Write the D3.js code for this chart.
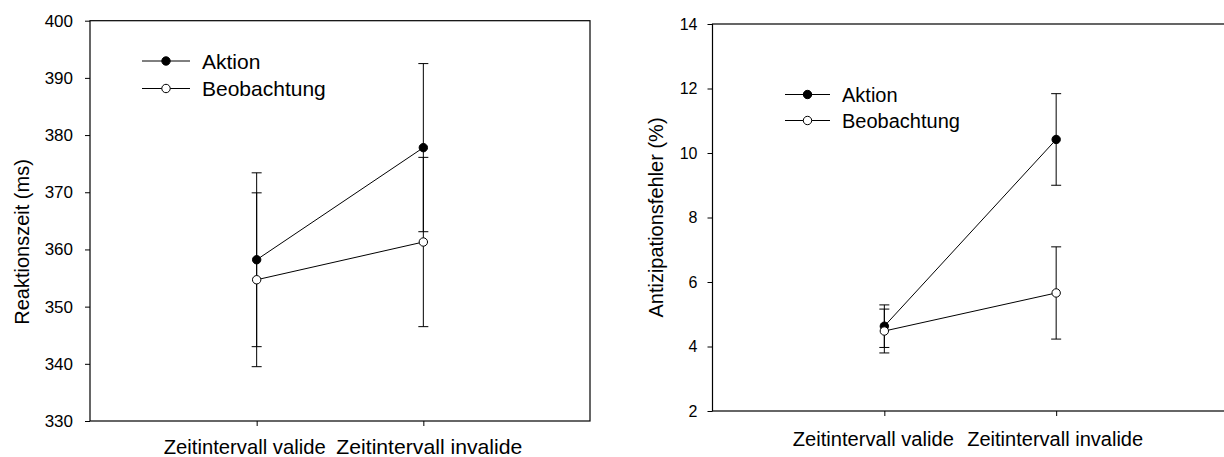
<!DOCTYPE html>
<html>
<head>
<meta charset="utf-8">
<script src="https://cdn.jsdelivr.net/npm/d3@7"></script>
<style>
  html, body { margin: 0; padding: 0; background: #fff; }
  svg { display: block; font-family: "Liberation Sans", Arial, sans-serif; }
</style>
</head>
<body>
<svg id="chart" width="1224" height="457"></svg>
<script>
// ---------- data ----------
const categories = ["Zeitintervall valide", "Zeitintervall invalide"];
const seriesNames = ["Aktion", "Beobachtung"];

// left panel: Reaktionszeit (ms)
const rtAktion = [358.2, 377.8];
const rtAktionErr = [15.2, 14.7];
const rtBeobachtung = [354.7, 361.3];
const rtBeobachtungErr = [15.2, 14.8];
const rtTicks = [330, 340, 350, 360, 370, 380, 390, 400];

// right panel: Antizipationsfehler (%)
const afAktion = [4.63, 10.42];
const afAktionErr = [0.66, 1.42];
const afBeobachtung = [4.48, 5.66];
const afBeobachtungErr = [0.68, 1.43];
const afTicks = [2, 4, 6, 8, 10, 12, 14];

// ---------- drawing ----------
const svg = d3.select("#chart");

function panel(cfg) {
  const g = svg.append("g");
  const x = d3.scalePoint().domain(categories).range([cfg.left, cfg.right]).padding(1);
  const y = d3.scaleLinear().domain(cfg.domain).range([cfg.bottom, cfg.top]);

  // frame
  g.append("rect")
    .attr("x", cfg.left).attr("y", cfg.top)
    .attr("width", cfg.right - cfg.left).attr("height", cfg.bottom - cfg.top)
    .attr("fill", "none").attr("stroke", "#000").attr("stroke-width", 1.2);

  // y axis
  const ya = g.append("g").attr("transform", `translate(${cfg.left},0)`)
    .call(d3.axisLeft(y).tickValues(cfg.ticks).tickSize(5).tickPadding(cfg.tickPad).tickFormat(d3.format("d")));
  ya.select(".domain").remove();
  ya.selectAll("line").attr("stroke", "#000");
  ya.selectAll("text").attr("font-size", cfg.tickFont).attr("fill", "#000")
    .attr("font-family", "Liberation Sans, Arial, sans-serif");

  // x axis ticks
  const xa = g.append("g").attr("transform", `translate(0,${cfg.bottom})`)
    .call(d3.axisBottom(x).tickSize(5).tickFormat(""));
  xa.select(".domain").remove();
  xa.selectAll("line").attr("stroke", "#000");

  // x labels
  g.selectAll(".xlab").data(categories).enter().append("text")
    .attr("x", (d, i) => x(d) + cfg.labDx[i])
    .attr("y", cfg.labY)
    .attr("text-anchor", "middle")
    .attr("font-size", cfg.labFont)
    .attr("textLength", (d, i) => cfg.labLen[i])
    .attr("lengthAdjust", "spacingAndGlyphs")
    .attr("fill", "#000")
    .text(d => d);

  // y title
  g.append("text")
    .attr("transform", `translate(${cfg.titleX},${cfg.titleY}) rotate(-90)`)
    .attr("text-anchor", "middle")
    .attr("dominant-baseline", "central")
    .attr("font-size", cfg.titleFont)
    .attr("fill", "#000")
    .text(cfg.title);

  const series = [
    { name: seriesNames[0], vals: cfg.s1, err: cfg.e1, fill: "#000" },
    { name: seriesNames[1], vals: cfg.s2, err: cfg.e2, fill: "#fff" }
  ];

  const line = d3.line().x((d, i) => x(categories[i])).y(d => y(d));
  const cap = 5;

  series.forEach(s => {
    s.vals.forEach((v, i) => {
      const cx = x(categories[i]);
      const lo = y(v - s.err[i]), hi = y(v + s.err[i]);
      g.append("line").attr("x1", cx).attr("x2", cx).attr("y1", lo).attr("y2", hi)
        .attr("stroke", "#000").attr("stroke-width", 1);
      [lo, hi].forEach(yy => g.append("line")
        .attr("x1", cx - cap).attr("x2", cx + cap).attr("y1", yy).attr("y2", yy)
        .attr("stroke", "#000").attr("stroke-width", 1));
    });
  });
  series.forEach(s => {
    g.append("path").datum(s.vals).attr("d", line)
      .attr("fill", "none").attr("stroke", "#000").attr("stroke-width", 1);
  });
  series.forEach(s => {
    g.selectAll(null).data(s.vals).enter().append("circle")
      .attr("cx", (d, i) => x(categories[i])).attr("cy", d => y(d))
      .attr("r", 4.2).attr("fill", s.fill).attr("stroke", "#000").attr("stroke-width", 1);
  });

  // legend
  series.forEach((s, i) => {
    const ly = cfg.legY + i * cfg.legGap;
    g.append("line").attr("x1", cfg.legX).attr("x2", cfg.legX + cfg.legLen)
      .attr("y1", ly).attr("y2", ly).attr("stroke", "#000").attr("stroke-width", 1);
    g.append("circle").attr("cx", cfg.legX + cfg.legLen / 2).attr("cy", ly).attr("r", 4.2)
      .attr("fill", s.fill).attr("stroke", "#000").attr("stroke-width", 1);
    g.append("text").attr("x", cfg.legX + cfg.legLen + 12).attr("y", ly)
      .attr("dy", "0.36em").attr("font-size", cfg.legFont).attr("fill", "#000")
      .text(s.name);
  });
}

panel({
  left: 90, right: 590, top: 20.7, bottom: 421,
  domain: [330, 400], ticks: rtTicks, tickPad: 12, tickFont: 17,
  s1: rtAktion, e1: rtAktionErr, s2: rtBeobachtung, e2: rtBeobachtungErr,
  labDx: [-12, 6], labY: 454, labFont: 21, labLen: [162, 186],
  title: "Reaktionszeit (ms)", titleX: 22, titleY: 242, titleFont: 20,
  legX: 142, legLen: 48, legY: 61, legGap: 27.5, legFont: 21
});

panel({
  left: 712.5, right: 1228, top: 24, bottom: 411,
  domain: [2, 14], ticks: afTicks, tickPad: 10, tickFont: 16,
  s1: afAktion, e1: afAktionErr, s2: afBeobachtung, e2: afBeobachtungErr,
  labDx: [-11, -1], labY: 446, labFont: 20, labLen: [161, 176],
  title: "Antizipationsfehler (%)", titleX: 656, titleY: 217.5, titleFont: 20,
  legX: 785, legLen: 45, legY: 94.5, legGap: 26, legFont: 20
});
</script>
</body>
</html>
